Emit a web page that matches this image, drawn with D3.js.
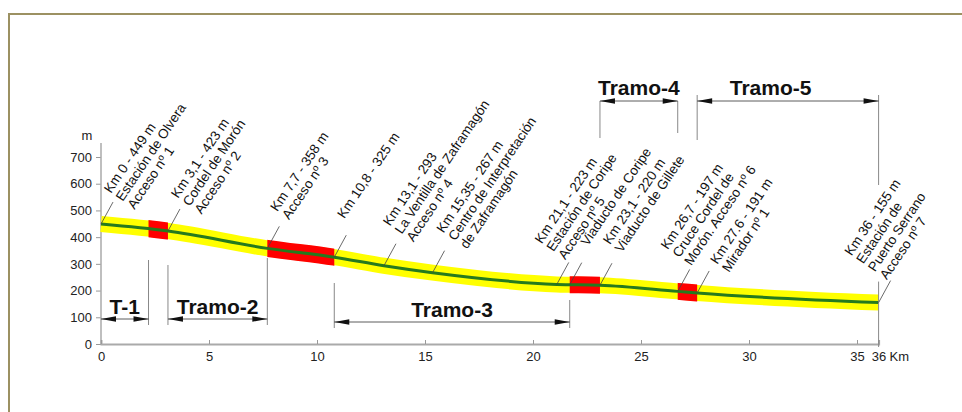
<!DOCTYPE html>
<html>
<head>
<meta charset="utf-8">
<script src="https://cdn.jsdelivr.net/npm/d3@7"></script>
<style>
body{margin:0;background:#fff;}
svg{display:block;font-family:"Liberation Sans",Arial,sans-serif;}
</style>
</head>
<body>
<script>
// perfil de la via verde: km y cota (m)
var kms   = [0, 3.1, 7.7, 10.8, 13.1, 15.35, 21.1, 23.1, 26.7, 27.6, 36];
var cotas = [449, 423, 358, 325, 293, 267, 223, 220, 197, 191, 155];

// tramos marcados en rojo
var rojoIni = [2.2, 7.7, 21.7, 26.7];
var rojoFin = [3.1, 10.8, 23.1, 27.6];

// tramos
var tramos   = ["T-1", "Tramo-2", "Tramo-3", "Tramo-4", "Tramo-5"];
var tramoIni = [0, 3.1, 10.8, 23.1, 27.6];
var tramoFin = [2.2, 7.7, 21.7, 26.7, 36];

var xTicks = [0, 5, 10, 15, 20, 25, 30, 35, 36];
var yTicks = [0, 100, 200, 300, 400, 500, 600, 700];

// puntos con rotulo
var etiquetaKm = [0, 3.1, 7.7, 10.8, 13.1, 15.35, 21.1, 21.7, 23.1, 26.7, 27.6, 36];
var etiquetas = [
  ["Km 0 - 449 m", "Estación de Olvera", "Acceso nº 1"],
  ["Km 3,1 - 423 m", "Cordel de Morón", "Acceso nº 2"],
  ["Km 7,7 - 358 m", "Acceso nº 3"],
  ["Km 10,8 - 325 m"],
  ["Km 13,1 - 293", "La Ventilla de Zaframagón", "Acceso nº 4"],
  ["Km 15,35 - 267 m", "Centro de Interpretación", "de Zaframagón"],
  ["Km 21,1 - 223 m", "Estación de Coripe", "Acceso nº 5"],
  ["Viaducto de Coripe"],
  ["Km 23,1 - 220 m", "Viaducto de Gillete"],
  ["Km 26,7 - 197 m", "Cruce Cordel de", "Morón. Acceso nº 6"],
  ["Km 27.6 - 191 m", "Mirador nº 1"],
  ["Km 36 - 155 m", "Estación de", "Puerto Serrano", "Acceso nº 7"]
];

// ---- maquetacion (px) ----
var W = 962, H = 412;
var txtOff = [[10,-30],[10,-32],[10,-36],[10,-38],[6,-39],[11,-39],[-15,-40],[18,-38],[10,-40],[-10,-41],[20,-28],[-27,-46]];
var guia = [12, -22];           // vector de la linea guia
var giro = -56;                 // rotacion de los rotulos
var flechaY = [319, 319, 322, 101, 101];
var textoY  = [314, 314, 317, 95, 95];
var textoKm = [null, null, null, null, 31.0];
var bordeIzq = [null, [265,325], [283,328], [101,138], [95,140]];
var bordeDer = [[260,325], [258,325], [300,328], [101,133], [95,185]];

var svg = d3.select("body").append("svg").attr("width", W).attr("height", H);

// marco
svg.append("path")
    .attr("d", "M9," + H + "V14H" + W)
    .attr("fill", "none").attr("stroke", "#9c9162").attr("stroke-width", 2);

var x = d3.scaleLinear().domain([0, 36]).range([101, 878.6]);
var y = d3.scaleLinear().domain([0, 700]).range([344, 157]);
var cotaEn = d3.scaleLinear().domain(kms).range(cotas); // interpolacion por tramos

// ejes
var gy = svg.append("g").attr("transform", "translate(" + x(0) + ",0)")
    .call(d3.axisLeft(y).tickValues(yTicks).tickSize(5).tickPadding(4));
gy.select(".domain").remove();
gy.append("line").attr("y1", y(0)).attr("y2", y(752)).attr("stroke", "#aaa").attr("stroke-width", 1.5);
gy.selectAll(".tick line").attr("stroke", "#999");
gy.selectAll(".tick text").attr("fill", "#222").style("font-size", "13px").attr("font-family", null);
gy.append("text").attr("x", -14).attr("y", 140).attr("text-anchor", "middle")
    .attr("fill", "#222").style("font-size", "13px").text("m");

var gx = svg.append("g").attr("transform", "translate(0," + y(0) + ")")
    .call(d3.axisBottom(x).tickValues(xTicks).tickSize(-4).tickPadding(8).tickFormat(d3.format("d")));
gx.select(".domain").attr("stroke", "#aaa").attr("stroke-width", 2);
gx.selectAll(".tick line").attr("stroke", "#999");
gx.selectAll(".tick text").attr("fill", "#222").style("font-size", "13px").attr("font-family", null);
gx.append("text").attr("x", x(36) + 11).attr("y", 8).attr("dy", "0.71em")
    .attr("text-anchor", "start")
    .attr("fill", "#222").style("font-size", "13px").text("Km");

// perfil
var perfil = kms.map(function(d, i) { return [d, cotas[i]]; });
var linea = d3.line()
    .x(function(d) { return x(d[0]); })
    .y(function(d) { return y(d[1]); })
    .curve(d3.curveMonotoneX);

svg.append("path").attr("d", linea(perfil))
    .attr("fill", "none").attr("stroke", "#ffff00").attr("stroke-width", 16);

var defs = svg.append("defs");
rojoIni.forEach(function(a, i) {
  defs.append("clipPath").attr("id", "rojo" + i)
    .append("rect").attr("x", x(a)).attr("y", 0)
    .attr("width", x(rojoFin[i]) - x(a)).attr("height", H);
  svg.append("path").attr("d", linea(perfil))
    .attr("clip-path", "url(#rojo" + i + ")")
    .attr("fill", "none").attr("stroke", "#ff0000").attr("stroke-width", 17);
});

svg.append("path").attr("d", linea(perfil))
    .attr("fill", "none").attr("stroke", "#267a1e").attr("stroke-width", 3);

// tramos
tramos.forEach(function(t, i) {
  var g = svg.append("g");
  var x1 = x(tramoIni[i]), x2 = x(tramoFin[i]), fy = flechaY[i];
  if (bordeIzq[i]) g.append("line").attr("x1", x1).attr("x2", x1)
      .attr("y1", bordeIzq[i][0]).attr("y2", bordeIzq[i][1]).attr("stroke", "#888");
  g.append("line").attr("x1", x2).attr("x2", x2)
      .attr("y1", bordeDer[i][0]).attr("y2", bordeDer[i][1]).attr("stroke", "#888");
  g.append("line").attr("x1", x1).attr("x2", x2).attr("y1", fy).attr("y2", fy)
      .attr("stroke", "#333").attr("stroke-width", 0.8);
  g.append("path").attr("fill", "#111")
      .attr("d", "M" + x1 + "," + fy + "l15,-2.8v5.6z M" + x2 + "," + fy + "l-15,-2.8v5.6z");
  var tk = textoKm[i] != null ? textoKm[i] : (tramoIni[i] + tramoFin[i]) / 2;
  g.append("text").attr("x", x(tk)).attr("y", textoY[i]).attr("text-anchor", "middle")
      .attr("fill", "#111").style("font-size", "21px").style("font-weight", "bold").text(t);
});

// linea vertical km 36 bajo el perfil
svg.append("line").attr("x1", x(36)).attr("x2", x(36))
    .attr("y1", y(cotaEn(36)) - 21).attr("y2", y(0) + 3).attr("stroke", "#888");

// rotulos
etiquetas.forEach(function(lineas, i) {
  var px = x(etiquetaKm[i]), py = y(cotaEn(etiquetaKm[i]));
  svg.append("line").attr("x1", px).attr("y1", py)
      .attr("x2", px + guia[0]).attr("y2", py + guia[1])
      .attr("stroke", "#444").attr("stroke-width", 0.8);
  var tx = px + txtOff[i][0], ty = py + txtOff[i][1];
  var txt = svg.append("text")
      .attr("transform", "translate(" + tx + "," + ty + ") rotate(" + giro + ")")
      .attr("fill", "#111").style("font-size", "13.5px");
  lineas.forEach(function(l, j) {
    txt.append("tspan").attr("x", 0).attr("dy", j == 0 ? 0 : "1.05em").text(l);
  });
});
</script>
</body>
</html>
